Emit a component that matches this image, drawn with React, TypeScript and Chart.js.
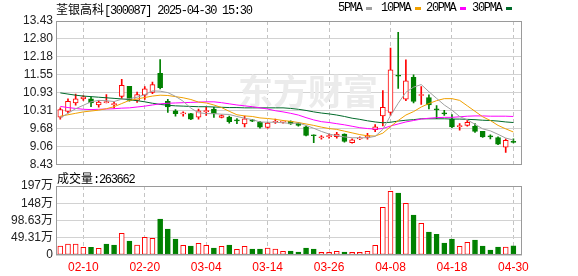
import React, { useEffect, useRef } from 'react';
import { Chart, registerables } from 'chart.js';
Chart.register(...registerables);

const dates = ['02-05','02-06','02-07','02-10','02-11','02-12','02-13','02-14','02-17','02-18','02-19','02-20','02-21','02-24','02-25','02-26','02-27','02-28','03-03','03-04','03-05','03-06','03-07','03-10','03-11','03-12','03-13','03-14','03-17','03-18','03-19','03-20','03-21','03-24','03-25','03-26','03-27','03-28','03-31','04-01','04-02','04-03','04-07','04-08','04-09','04-10','04-11','04-14','04-15','04-16','04-17','04-18','04-21','04-22','04-23','04-24','04-25','04-28','04-29','04-30'];

const opens = [10.09,10.29,10.58,10.72,10.72,10.51,10.59,10.52,10.81,11.16,10.67,10.85,10.95,11.61,10.64,10.31,10.20,10.21,10.09,10.28,10.37,10.08,10.09,9.98,9.85,9.99,9.91,9.73,9.91,9.91,9.94,9.88,9.75,9.45,9.37,9.41,9.41,9.50,9.20,9.33,9.38,9.65,10.13,10.25,11.54,10.71,11.47,10.84,10.77,10.37,10.22,10.02,9.76,9.80,9.77,9.59,9.42,9.38,9.04,9.24];
const highs = [10.41,10.72,10.89,10.84,10.79,10.66,10.87,10.62,11.40,11.16,10.96,11.15,11.31,12.09,10.71,10.35,10.27,10.22,10.37,10.43,10.43,10.17,10.12,10.04,10.12,10.01,9.94,9.91,10.02,9.98,9.96,9.90,9.78,9.47,9.45,9.50,9.56,9.51,9.33,9.40,9.52,9.83,11.01,12.49,13.04,12.08,11.56,11.15,10.86,10.49,10.32,10.18,9.86,9.98,9.86,9.59,9.47,9.40,9.33,9.33];
const lows = [10.02,10.23,10.50,10.67,10.45,10.43,10.58,10.40,10.74,10.64,10.60,10.70,10.90,11.07,10.25,10.12,10.12,10.00,10.02,10.15,10.08,10.06,9.88,9.86,9.75,9.93,9.70,9.70,9.87,9.88,9.83,9.77,9.43,9.20,9.32,9.36,9.36,9.22,9.18,9.30,9.32,9.58,9.78,10.15,11.09,10.66,10.58,10.53,10.37,10.03,10.15,9.72,9.63,9.77,9.56,9.38,9.33,9.13,8.86,9.19];
const closes = [10.35,10.64,10.72,10.79,10.58,10.61,10.61,10.56,11.19,10.67,10.87,11.07,11.22,11.11,10.44,10.21,10.21,10.02,10.31,10.30,10.20,10.14,9.93,9.96,10.03,9.95,9.74,9.88,9.93,9.95,9.85,9.80,9.45,9.44,9.39,9.43,9.50,9.24,9.30,9.36,9.45,9.75,10.43,11.73,11.51,11.35,10.63,10.87,10.51,10.34,10.20,9.75,9.77,9.91,9.59,9.40,9.40,9.15,9.28,9.21];

const ma5 = [10.06,10.22,10.38,10.50,10.62,10.67,10.66,10.63,10.71,10.73,10.78,10.87,11.00,10.99,10.94,10.81,10.64,10.40,10.24,10.21,10.21,10.19,10.18,10.11,10.05,10.00,9.92,9.91,9.91,9.89,9.87,9.88,9.80,9.70,9.59,9.50,9.44,9.40,9.37,9.37,9.37,9.42,9.66,10.14,10.57,10.95,11.13,11.22,10.97,10.74,10.51,10.33,10.11,9.99,9.84,9.68,9.61,9.49,9.36,9.29];
const ma10 = [10.12,10.17,10.22,10.27,10.30,10.33,10.38,10.45,10.56,10.67,10.72,10.77,10.82,10.85,10.84,10.80,10.76,10.70,10.61,10.58,10.51,10.42,10.29,10.17,10.13,10.11,10.06,10.04,10.01,9.97,9.94,9.90,9.85,9.80,9.74,9.69,9.66,9.60,9.54,9.48,9.44,9.43,9.53,9.76,9.97,10.16,10.28,10.44,10.56,10.66,10.73,10.73,10.67,10.48,10.29,10.10,9.97,9.80,9.68,9.57];
const ma20 = [10.46,10.42,10.39,10.36,10.35,10.36,10.37,10.38,10.40,10.41,10.44,10.47,10.51,10.55,10.57,10.58,10.59,10.60,10.61,10.62,10.62,10.59,10.55,10.51,10.48,10.45,10.41,10.37,10.31,10.27,10.22,10.16,10.07,9.99,9.93,9.90,9.86,9.82,9.77,9.72,9.69,9.67,9.69,9.78,9.85,9.92,9.97,10.02,10.05,10.07,10.08,10.08,10.10,10.12,10.13,10.13,10.12,10.12,10.12,10.11];
const ma30 = [10.93,10.89,10.85,10.82,10.80,10.78,10.76,10.74,10.72,10.69,10.66,10.62,10.57,10.53,10.50,10.48,10.47,10.46,10.45,10.45,10.44,10.43,10.42,10.42,10.41,10.41,10.41,10.41,10.41,10.41,10.39,10.36,10.32,10.27,10.23,10.20,10.16,10.11,10.05,10.01,9.96,9.92,9.89,9.91,9.95,9.98,10.00,10.03,10.03,10.03,10.03,10.02,10.02,10.01,10.00,9.98,9.97,9.95,9.92,9.90];

const volumes = [257000,314000,314000,219000,219000,190000,314000,286000,620000,400000,286000,505000,476000,1030000,743000,457000,276000,257000,334000,276000,200000,248000,286000,162000,248000,172000,172000,200000,172000,105000,114000,86000,200000,172000,76000,76000,105000,86000,76000,76000,105000,276000,1363000,1820000,1770000,1477000,1144000,905000,658000,590000,343000,457000,248000,362000,429000,257000,143000,229000,229000,263662];
const volUp = [1,1,1,1,0,1,0,0,1,0,1,1,1,0,0,0,1,0,1,1,0,1,0,1,1,0,0,1,1,1,0,0,0,0,1,1,1,0,1,1,1,1,1,1,0,1,0,1,0,0,0,0,1,1,0,0,0,0,1,0];

const priceTicks = [8.43, 9.055, 9.68, 10.305, 10.93, 11.555, 12.18, 12.805, 13.43];
const priceTickLabels = ['8.43','9.06','9.68','10.31','10.93','11.55','12.18','12.80','13.43'];
const volTicks = [0, 493125, 986250, 1479375, 1972500];
const volTickLabels = ['0','49.31万','98.63万','148万','197万'];
const dateTickIdx = [3, 11, 19, 27, 35, 43, 51, 59];

const maNames = ['5PMA', '10PMA', '20PMA', '30PMA'];
const title = '荃银高科';
const titleCode = '[300087] 2025-04-30 15:30';
const volLabel = '成交量:263662';

const RED = '#ff0000';
const GREEN = '#008000';
const MA_COLORS = ['#a0a0a0', '#f0a000', '#ff00ff', '#006a2a'];
const X_MIN = -0.56;
const X_MAX = 60.12;
const LEFT_W = 56;
const RIGHT_PAD = 56;

const framePlugin = {
  id: 'frame',
  afterDatasetsDraw(chart: any) {
    const { ctx, chartArea } = chart;
    const l = Math.round(chartArea.left) + 0.5;
    const t = Math.round(chartArea.top) + 0.5;
    const r = Math.round(chartArea.right) - 0.5;
    const b = Math.round(chartArea.bottom) - 0.5;
    ctx.save();
    ctx.strokeStyle = '#9a9a9a';
    ctx.lineWidth = 1;
    ctx.strokeRect(l, t, r - l, b - t);
    ctx.restore();
  },
};

const watermarkPlugin = {
  id: 'watermark',
  beforeDatasetsDraw(chart: any) {
    const { ctx } = chart;
    ctx.save();
    ctx.fillStyle = '#ebebeb';
    ctx.font = 'bold 35px "Noto Sans CJK SC"';
    ctx.textBaseline = 'middle';
    ctx.fillText('东方财富', 238, 92);
    ctx.restore();
  },
};

const xScaleBase = (showLabels: boolean) => ({
  type: 'linear',
  min: X_MIN,
  max: X_MAX,
  offset: false,
  afterBuildTicks: (s: any) => {
    s.ticks = dateTickIdx.map((v) => ({ value: v }));
  },
  afterFit: (s: any) => {
    s.height = showLabels ? 21 : 0;
  },
  ticks: {
    display: showLabels,
    autoSkip: false,
    maxRotation: 0,
    padding: 5,
    color: RED,
    font: { family: '"Liberation Sans", Arial', size: 12 },
    callback: (v: any) => dates[v],
  },
  grid: { color: '#c4c4c4', drawTicks: false, lineWidth: 1, offset: false },
  border: { display: false, dash: [4, 3] },
});

export default function App() {
  const priceRef = useRef<HTMLCanvasElement>(null);
  const volRef = useRef<HTMLCanvasElement>(null);

  useEffect(() => {
    const candleColor = closes.map((c, i) => (c >= opens[i] ? RED : GREEN));
    const price = new Chart(priceRef.current as HTMLCanvasElement, {
      type: 'bar',
      data: {
        datasets: [
          ...[ma5, ma10, ma20, ma30].map((arr, k) => ({
            type: 'line',
            label: maNames[k],
            data: arr.map((v, i) => ({ x: i, y: v })),
            borderColor: MA_COLORS[k],
            borderWidth: 1,
            pointRadius: 0,
            tension: 0,
            order: 0,
          })),
          {
            type: 'bar',
            label: 'body',
            data: opens.map((o, i) => ({ x: i, y: [o, closes[i]] })),
            backgroundColor: closes.map((c, i) => (c >= opens[i] ? '#ffffff' : GREEN)),
            borderColor: candleColor,
            borderWidth: 1,
            borderSkipped: false,
            barThickness: 5,
            minBarLength: 1,
            grouped: false,
            order: 1,
          },
          {
            type: 'bar',
            label: 'wick',
            data: lows.map((l, i) => ({ x: i, y: [l, highs[i]] })),
            backgroundColor: candleColor,
            borderWidth: 0,
            barThickness: 1,
            grouped: false,
            order: 2,
          },
        ] as any,
      },
      options: {
        responsive: false,
        animation: false,
        layout: { padding: { top: 21, right: RIGHT_PAD, bottom: 10, left: 0 } },
        plugins: { legend: { display: false }, tooltip: { enabled: false } },
        scales: {
          x: xScaleBase(false) as any,
          y: {
            min: 8.43,
            max: 13.43,
            afterBuildTicks: (s: any) => {
              s.ticks = priceTicks.map((v) => ({ value: v }));
            },
            afterFit: (s: any) => {
              s.width = LEFT_W;
            },
            ticks: {
              autoSkip: false,
              padding: 3,
              color: '#222',
              font: { family: '"Liberation Sans", Arial', size: 12 },
              callback: (_v: any, idx: number) => priceTickLabels[idx],
            },
            grid: { color: '#d2d2d2', drawTicks: false },
            border: { display: false },
          },
        },
      },
      plugins: [watermarkPlugin, framePlugin],
    } as any);

    const vol = new Chart(volRef.current as HTMLCanvasElement, {
      type: 'bar',
      data: {
        datasets: [
          {
            label: 'volume',
            data: volumes.map((v, i) => ({ x: i, y: v })),
            backgroundColor: volUp.map((u) => (u ? '#ffffff' : GREEN)),
            borderColor: volUp.map((u) => (u ? RED : GREEN)),
            borderWidth: 1,
            borderSkipped: false,
            barThickness: 5,
            grouped: false,
          },
        ] as any,
      },
      options: {
        responsive: false,
        animation: false,
        layout: { padding: { top: 11, right: RIGHT_PAD, bottom: 0, left: 0 } },
        plugins: { legend: { display: false }, tooltip: { enabled: false } },
        scales: {
          x: xScaleBase(true) as any,
          y: {
            min: 0,
            max: 1972500,
            afterBuildTicks: (s: any) => {
              s.ticks = volTicks.map((v) => ({ value: v }));
            },
            afterFit: (s: any) => {
              s.width = LEFT_W;
            },
            ticks: {
              autoSkip: false,
              padding: 3,
              color: '#222',
              font: { family: '"Liberation Sans", Arial, "Noto Sans CJK SC"', size: 12 },
              callback: (_v: any, idx: number) => volTickLabels[idx],
            },
            grid: { color: '#d2d2d2', drawTicks: false },
            border: { display: false },
          },
        },
      },
      plugins: [framePlugin],
    } as any);

    return () => {
      price.destroy();
      vol.destroy();
    };
  }, []);

  const mono: React.CSSProperties = {
    fontFamily: '"Liberation Mono", monospace',
    letterSpacing: '-1.3px',
  };
  const legendX = [338, 381, 426, 472];

  return (
    <div
      style={{
        position: 'fixed',
        left: 0,
        top: 0,
        width: 578,
        height: 276,
        background: '#fff',
        overflow: 'hidden',
      }}
    >
      <canvas
        ref={priceRef}
        width={578}
        height={175}
        style={{ position: 'absolute', left: 0, top: 0, width: 578, height: 175 }}
      />
      <canvas
        ref={volRef}
        width={578}
        height={101}
        style={{ position: 'absolute', left: 0, top: 175, width: 578, height: 101 }}
      />
      <div
        style={{
          position: 'absolute',
          left: 56,
          top: 1,
          fontSize: 12,
          lineHeight: '15px',
          whiteSpace: 'nowrap',
          color: '#000',
        }}
      >
        <span style={{ fontFamily: '"Noto Sans CJK SC"' }}>{title}</span>
        <span style={mono}>{titleCode}</span>
      </div>
      {maNames.map((n, k) => (
        <div
          key={n}
          style={{
            position: 'absolute',
            left: legendX[k],
            top: 1,
            fontSize: 12,
            lineHeight: '15px',
            whiteSpace: 'nowrap',
            color: '#000',
            display: 'flex',
            alignItems: 'center',
          }}
        >
          <span style={mono}>{n}</span>
          <span
            style={{
              display: 'inline-block',
              width: 6,
              height: 3,
              marginLeft: 4,
              background: MA_COLORS[k],
            }}
          />
        </div>
      ))}
      <div
        style={{
          position: 'absolute',
          left: 57,
          top: 170,
          fontSize: 12,
          lineHeight: '15px',
          whiteSpace: 'nowrap',
          color: '#000',
          fontFamily: '"Noto Sans CJK SC"',
        }}
      >
        <span>{volLabel.slice(0, 3)}</span>
        <span style={mono}>{volLabel.slice(3)}</span>
      </div>
    </div>
  );
}
